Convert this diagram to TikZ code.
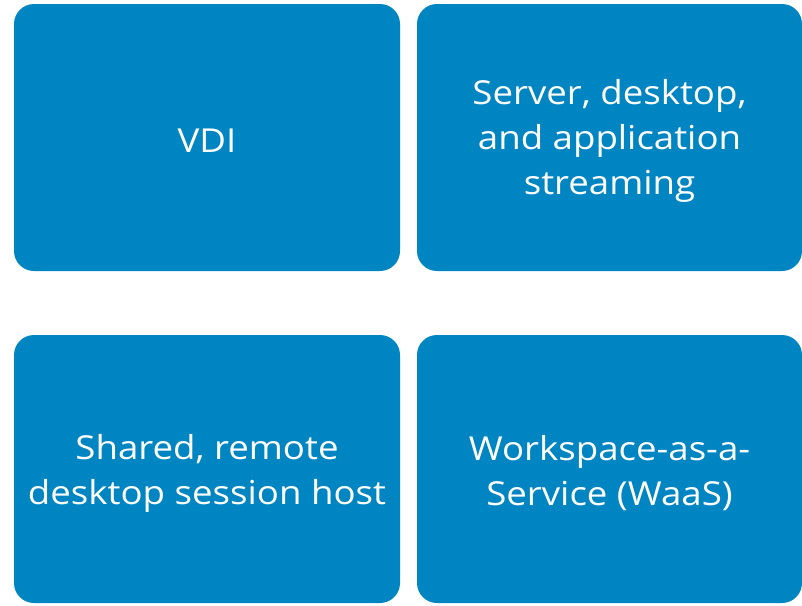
\documentclass[tikz,border=0pt]{standalone}
\usepackage{fontspec}
\setmainfont[FakeStretch=1.11]{Open Sans}
\definecolor{dellblue}{HTML}{0085C3}
\tikzset{
  tile/.style={fill=dellblue, draw=none, rounded corners=20pt},
  tiletext/.style={text=white, align=center, font=\fontsize{33}{45}\selectfont, inner sep=0pt}
}
\begin{document}
\begin{tikzpicture}[x=1pt,y=1pt]
\useasboundingbox (0,0) rectangle (802,-605);
\fill[tile] (14,-4) rectangle (400,-271);
\fill[tile] (417,-4) rectangle (802,-271);
\fill[tile] (14,-335) rectangle (400,-603);
\fill[tile] (417,-335) rectangle (802,-603);
\node[tiletext] (a) at (207,-140.5) {VDI};
\node[tiletext] (b) at (609.5,-141) {Server, desktop,\\and application\\streaming};
\node[tiletext] (c) at (207,-473) {Shared, remote\\desktop session host};
\node[tiletext] (d) at (609.5,-473) {Workspace-as-a-\\Service (WaaS)};
\end{tikzpicture}
\end{document}
